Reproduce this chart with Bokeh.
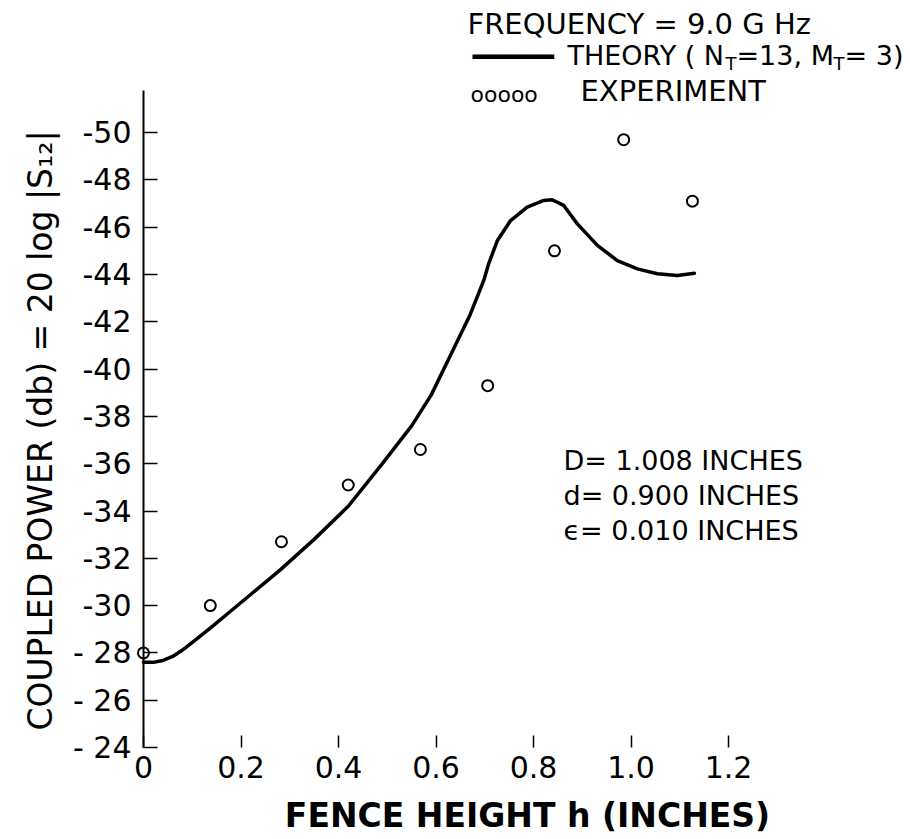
import math
from bokeh.plotting import figure
from bokeh.models import Range1d, FixedTicker, Label
from bokeh.embed import file_html
from bokeh.resources import INLINE

# ---------------- data ----------------
theory_h = [0.00, 0.02, 0.04, 0.06, 0.08, 0.11, 0.14, 0.21, 0.28, 0.35, 0.42,
            0.49, 0.55, 0.59, 0.63, 0.67, 0.698, 0.708, 0.726, 0.753, 0.787,
            0.821, 0.838, 0.862, 0.890, 0.931, 0.972, 1.013, 1.054, 1.095, 1.13]
theory_db = [-27.6, -27.6, -27.68, -27.85, -28.12, -28.6, -29.1, -30.3, -31.5, -32.8, -34.2,
             -36.0, -37.6, -38.9, -40.6, -42.3, -43.75, -44.45, -45.44, -46.28, -46.85,
             -47.13, -47.16, -46.92, -46.14, -45.23, -44.59, -44.24, -44.03, -43.96, -44.05]

exp_h = [0.0, 0.137, 0.283, 0.420, 0.568, 0.706, 0.843, 0.985, 1.126]
exp_db = [-28.0, -30.0, -32.7, -35.1, -36.6, -39.3, -45.0, -49.7, -47.1]

x_ticks = [0, 0.2, 0.4, 0.6, 0.8, 1.0, 1.2]
x_tick_labels = ["0", "0.2", "0.4", "0.6", "0.8", "1.0", "1.2"]
y_ticks = [-24, -26, -28, -30, -32, -34, -36, -38, -40, -42, -44, -46, -48, -50]
y_tick_labels = ["- 24", "- 26", "- 28", "-30", "-32", "-34", "-36", "-38",
                 "-40", "-42", "-44", "-46", "-48", "-50"]

x_title = "FENCE HEIGHT h (INCHES)"
y_title = "COUPLED POWER (db) = 20 log |S\u2081\u2082|"
header = "FREQUENCY = 9.0 G Hz"
theory_name = ["THEORY ( N", "T", "=13, M", "T", "= 3)"]
exp_name = "EXPERIMENT"
params = ["D= 1.008 INCHES", "d= 0.900 INCHES", "\u03f5= 0.010 INCHES"]

# ---------------- layout ----------------
W, H = 910, 839
LEFT = 143          # pixel column of h = 0
BASE = 747          # pixel row of -24 dB
XPX = 487.5         # pixels per inch
YPX = 23.65         # pixels per dB
FONT = "DejaVu Sans"


def dx(px):
    return (px - LEFT) / XPX


def dy(py):
    return -24 - (BASE - py) / YPX


p = figure(width=W, height=H, output_backend="svg", toolbar_location=None,
           x_range=Range1d(dx(0), dx(W)), y_range=Range1d(dy(H), dy(0)),
           min_border_left=0, min_border_bottom=0,
           min_border_top=0, min_border_right=0)
p.outline_line_color = None
p.grid.visible = False
p.background_fill_color = "white"
p.border_fill_color = "white"

# x axis (drawn at -24 dB)
xa = p.xaxis[0]
xa.fixed_location = -24
xa.ticker = FixedTicker(ticks=x_ticks)
xa.major_label_overrides = dict(zip(x_ticks, x_tick_labels))
xa.bounds = (0, 1.2)
xa.axis_line_color = None
xa.major_tick_in = 12
xa.major_tick_out = 0
xa.minor_tick_line_color = None
xa.major_tick_line_width = 1.5
xa.major_tick_line_color = "black"
xa.major_label_text_font = FONT
xa.major_label_text_font_size = "30px"
xa.major_label_text_color = "black"
xa.major_label_standoff = 8

# y axis (drawn at h = 0)
ya = p.yaxis[0]
ya.fixed_location = 0
ya.ticker = FixedTicker(ticks=y_ticks)
ya.major_label_overrides = dict(zip(y_ticks, y_tick_labels))
ya.bounds = (-51.8, -24)
ya.axis_line_width = 2
ya.axis_line_color = "black"
ya.major_tick_in = 14
ya.major_tick_out = 0
ya.minor_tick_line_color = None
ya.major_tick_line_width = 1.5
ya.major_tick_line_color = "black"
ya.major_label_text_font = FONT
ya.major_label_text_font_size = "30px"
ya.major_label_text_color = "black"
ya.major_label_standoff = 12

# data
p.line(theory_h, theory_db, line_color="black", line_width=3.5,
       line_join="round", line_cap="round")
p.scatter(exp_h, exp_db, marker="circle", size=11, fill_color="white",
          line_color="black", line_width=2)


def lab(text, px, py, size, align="left", bold=False, angle=0.0):
    p.add_layout(Label(x=dx(px), y=dy(py), text=text, text_font=FONT,
                       text_font_size=size, text_align=align, text_baseline="middle",
                       text_font_style="bold" if bold else "normal",
                       text_color="black", angle=angle))


# axis titles
lab(x_title, 527, 815, "33px", align="center", bold=True)
lab(y_title, 40, 430, "33px", align="center", angle=math.pi / 2)

# header / legend
lab(header, 467, 23, "29px")
lab("\u2501\u2501\u2501\u2501\u2501", 472, 56, "27px")
xpos = 567
sizes = ["27px", "18px", "27px", "18px", "27px"]
widths = [158, 11, 97, 11, 59]
for k, (t, s, w) in enumerate(zip(theory_name, sizes, widths)):
    lab(t, xpos, 63 if k in (1, 3) else 55, s)
    xpos += w
lab("ooooo", 470, 94, "22px")
lab(exp_name, 580, 90, "29px")

# parameter block
for i, t in enumerate(params):
    lab(t, 563, 460 + 35 * i, "27px")

open("out.html", "w").write(file_html(p, INLINE))
